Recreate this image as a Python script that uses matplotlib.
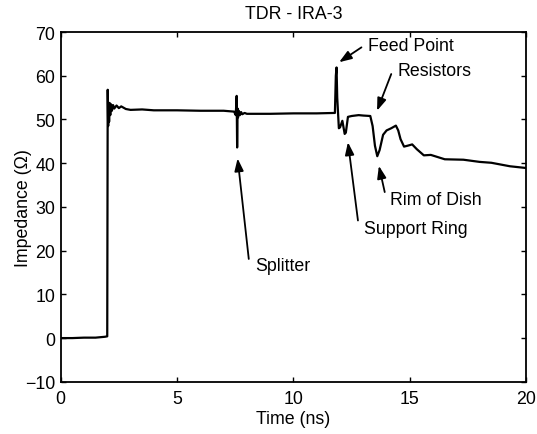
import matplotlib
matplotlib.use("Agg")
import matplotlib.pyplot as plt

plt.rcParams['font.family'] = ['Liberation Sans', 'DejaVu Sans']

time_ns = [0, 0.5, 1.0, 1.5, 1.9, 2.0, 2.02, 2.04, 2.06, 2.08, 2.1, 2.13, 2.16, 2.2, 2.25,
           2.3, 2.4, 2.5, 2.6, 2.8, 3.0, 3.5, 4.0, 5.0, 6.0, 7.0, 7.45, 7.52, 7.56, 7.58,
           7.6, 7.62, 7.65, 7.7, 7.75, 7.8, 7.9, 8.0, 9.0, 10.0, 11.0, 11.78, 11.82, 11.85,
           11.88, 11.95, 12.0, 12.1, 12.2, 12.25, 12.34, 12.5, 12.8, 13.0, 13.3, 13.4, 13.5,
           13.6, 13.7, 13.85, 14.0, 14.2, 14.4, 14.5, 14.6, 14.75, 14.9, 15.1, 15.3, 15.6,
           15.9, 16.5, 17.3, 18.0, 18.5, 19.3, 20.0]
impedance = [0.0, 0.0, 0.1, 0.1, 0.3, 0.4, 56.8, 48.5, 53.5, 49.5, 53.8, 51.0, 53.5, 52.0, 53.3,
             52.5, 53.2, 52.6, 53.0, 52.4, 52.2, 52.3, 52.1, 52.1, 52.0, 52.0, 51.8, 51.0, 55.4, 43.6,
             52.5, 50.5, 52.0, 51.0, 51.7, 51.2, 51.5, 51.3, 51.3, 51.4, 51.4, 51.5, 60.0, 61.9,
             55.0, 48.0, 48.2, 49.7, 46.7, 47.0, 50.6, 50.8, 51.0, 50.9, 50.8, 48.5, 44.0,
             41.6, 43.0, 46.5, 47.5, 48.0, 48.6, 47.5, 45.5, 43.8, 44.0, 44.3, 43.2, 41.8,
             41.9, 40.9, 40.8, 40.3, 40.1, 39.3, 38.9]

labels = ["Feed Point", "Resistors", "Support Ring", "Rim of Dish", "Splitter"]
label_xy = [(13.19, 66.9), (14.45, 61.2), (13.02, 25.1), (14.16, 31.8), (8.37, 16.6)]
arrow_tail = [(12.92, 66.5), (14.2, 60.4), (12.77, 26.9), (13.92, 33.4), (8.08, 18.1)]
arrow_tip = [(11.96, 63.1), (13.59, 52.0), (12.34, 44.8), (13.67, 39.4), (7.6, 41.1)]

FS = 12.8
fig = plt.figure(figsize=(5.37, 4.35), dpi=100)
ax = fig.add_axes([0.113, 0.12, 0.867, 0.804])
ax.plot(time_ns, impedance, color='black', linewidth=1.6)

for lab, lxy, tail, tip in zip(labels, label_xy, arrow_tail, arrow_tip):
    ax.text(lxy[0], lxy[1], lab, fontsize=FS, ha='left', va='center')
    ax.annotate('', xy=tip, xytext=tail,
                arrowprops=dict(arrowstyle='-|>,head_length=0.75,head_width=0.27',
                                color='black', lw=1.3, shrinkA=0, shrinkB=0))

ax.set_xlim(0, 20)
ax.set_ylim(-10, 70)
ax.set_xticks([0, 5, 10, 15, 20])
ax.set_yticks(list(range(-10, 71, 10)))
ax.tick_params(direction='in', length=3.5, top=True, right=True, labelsize=FS, width=1)
ax.tick_params(axis='x', pad=6)
ax.tick_params(axis='y', pad=4)
for s in ax.spines.values():
    s.set_linewidth(1.3)
ax.set_xlabel('Time (ns)', fontsize=FS, labelpad=2)
ax.set_ylabel('Impedance (Ω)', fontsize=FS, labelpad=-5)
ax.set_title('TDR - IRA-3', fontsize=FS, pad=10)

fig.savefig('out.png', dpi=100)
